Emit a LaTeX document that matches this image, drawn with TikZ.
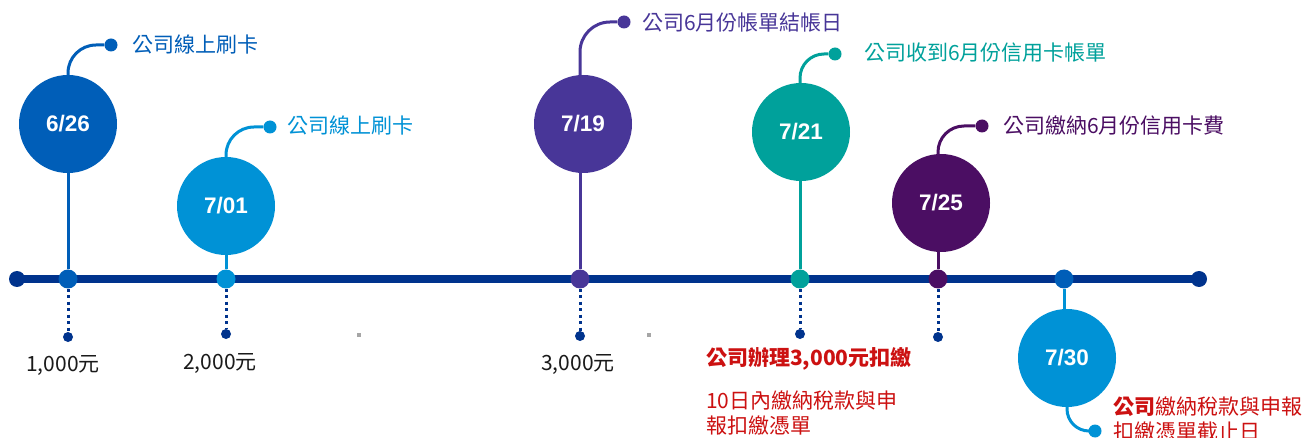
\documentclass[tikz,border=0pt]{standalone}
\usepackage{fontspec}
\setmainfont{Noto Sans CJK TC}
\newfontfamily\datefont{Liberation Sans}
\definecolor{tl}{HTML}{00338D}
\definecolor{ca}{HTML}{005EB8}
\definecolor{cb}{HTML}{0092D6}
\definecolor{cc}{HTML}{483698}
\definecolor{cd}{HTML}{00A19B}
\definecolor{ce}{HTML}{4B0E63}
\definecolor{rd}{HTML}{CC1111}
\definecolor{tx}{HTML}{1A1A1A}
\definecolor{gq}{HTML}{A6A6A6}
\tikzset{
  circ/.style={circle, fill=#1, minimum size=98pt, inner sep=0pt, text=white, font=\datefont\bfseries\fontsize{22.5}{22.5}\selectfont},
  tdot/.style={circle, fill=#1, minimum size=19pt, inner sep=0pt},
  edot/.style={circle, fill=tl, minimum size=16pt, inner sep=0pt},
  sdot/.style={circle, fill=#1, minimum size=13pt, inner sep=0pt},
  bdot/.style={circle, fill=tl, minimum size=10pt, inner sep=0pt},
  stem/.style={draw=#1, line width=3pt},
  dotline/.style={draw=tl, line width=3pt, dash pattern=on 3pt off 3.5pt},
  lbl/.style={anchor=west, text=#1, font=\fontsize{21}{25}\selectfont, inner sep=0pt, align=left},
  amt/.style={text=tx, font=\fontsize{21}{24}\selectfont, inner sep=0pt}
}
\begin{document}
\begin{tikzpicture}[x=1pt,y=-1pt]
\useasboundingbox[fill=white] (0,0) rectangle (1306,438);
% timeline
\node[edot] (e1) at (17,279) {};
\node[edot] (e2) at (1199,279) {};
\draw[tl, line width=8pt] (e1.center) -- (e2.center);
% timeline event dots
\node[tdot=ca] (t1) at (68,279) {};
\node[tdot=cb] (t2) at (226,279) {};
\node[tdot=cc] (t3) at (580,279) {};
\node[tdot=cd] (t4) at (800,279) {};
\node[tdot=ce] (t5) at (938,279) {};
\node[tdot=ca] (t6) at (1064,279) {};
% circles
\node[circ=ca] (c1) at (68,124) {6/26};
\node[circ=cb] (c2) at (226,206) {7/01};
\node[circ=cc] (c3) at (583,124) {7/19};
\node[circ=cd] (c4) at (801,132) {7/21};
\node[circ=ce] (c5) at (941,203) {7/25};
\node[circ=cb] (c6) at (1067,358) {7/30};
% stem end dots
\node[sdot=ca] (s1) at (111,45) {};
\node[sdot=cb] (s2) at (270,127) {};
\node[sdot=cc] (s3) at (624,22) {};
\node[sdot=cd] (s4) at (835,54) {};
\node[sdot=ce] (s5) at (982,126) {};
\node[sdot=cb] (s6) at (1095,431) {};
% bottom dots
\node[bdot] (b1) at (68,337) {};
\node[bdot] (b2) at (226,334) {};
\node[bdot] (b3) at (580,336) {};
\node[bdot] (b4) at (800,334) {};
\node[bdot] (b5) at (938,337) {};
% stems circle -> timeline
\draw[stem=ca] (c1.south) -- (t1.north);
\draw[stem=cb] (c2.south) -- (t2.north);
\draw[stem=cc] (t3 |- c3.south) -- (t3.north);
\draw[stem=cd] (t4 |- c4.south) -- (t4.north);
\draw[stem=ce] (t5 |- c5.south) -- (t5.north);
\draw[stem=cb] (t6.south) -- (t6 |- c6.north);
% curved stems
\draw[stem=ca, rounded corners=28pt] (c1.north) |- (s1.west);
\draw[stem=cb, rounded corners=28pt] (c2.north) |- (s2.west);
\draw[stem=cc, rounded corners=30pt] (t3 |- c3.north) |- (s3.west);
\draw[stem=cd, rounded corners=24pt] (t4 |- c4.north) |- (s4.west);
\draw[stem=ce, rounded corners=26pt] (t5 |- c5.north) |- (s5.west);
\draw[stem=cb, rounded corners=22pt] (c6.south) |- (s6.west);
% dotted drops
\draw[dotline] (t1.south) -- (b1.north);
\draw[dotline] (t2.south) -- (b2.north);
\draw[dotline] (t3.south) -- (b3.north);
\draw[dotline] (t4.south) -- (b4.north);
\draw[dotline] (t5.south) -- (b5.north);
% grey marks
\fill[gq] (357,333) rectangle (361,337);
\fill[gq] (647,333) rectangle (651,337);
% top labels
\node[lbl=ca] (l1) at (132,45) {公司線上刷卡};
\node[lbl=cb] (l2) at (287,126) {公司線上刷卡};
\node[lbl=cc] (l3) at (642,23) {公司6月份帳單結帳日};
\node[lbl=cd] (l4) at (864,53) {公司收到6月份信用卡帳單};
\node[lbl=ce] (l5) at (1003,126) {公司繳納6月份信用卡費};
% amounts
\node[amt] (a1) at (63,365) {1,000元};
\node[amt] (a2) at (220,363) {2,000元};
\node[amt] (a3) at (578,364) {3,000元};
% red notes
\node[lbl=rd, font=\bfseries\fontsize{21}{25}\selectfont] (r1) at (706,359) {公司辦理3,000元扣繳};
\node[lbl=rd] (r2) at (706,413.5) {10日內繳納稅款與申\\報扣繳憑單};
\node[lbl=rd] (r3) at (1113,419.5) {{\bfseries 公司}繳納稅款與申報\\扣繳憑單截止日};
\end{tikzpicture}
\end{document}
